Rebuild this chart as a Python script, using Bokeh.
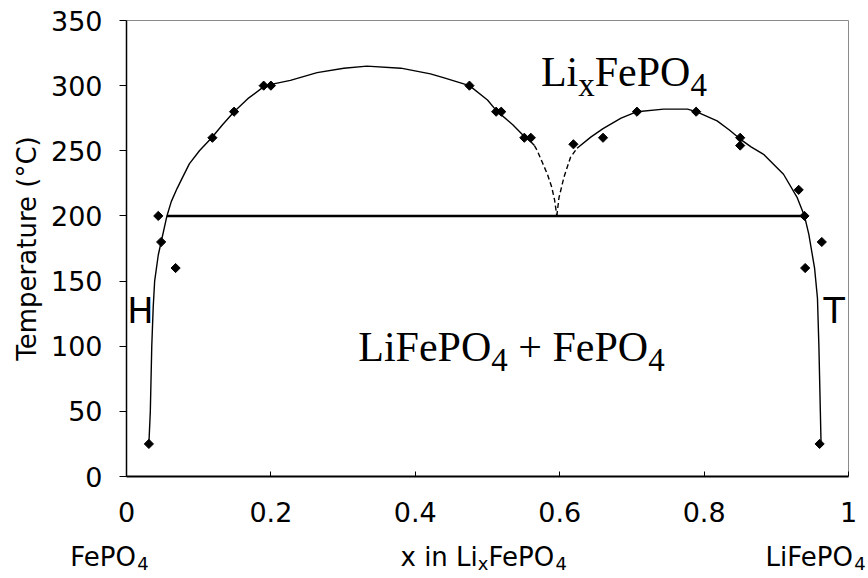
from bokeh.plotting import figure
from bokeh.models import Range1d, FixedTicker, LinearAxis
from bokeh.core.properties import value
from bokeh.embed import file_html
from bokeh.resources import INLINE
import math

# ---- data ----
pts_x = [0.031, 0.044, 0.048, 0.068, 0.119, 0.149, 0.190, 0.200, 0.475, 0.512, 0.519,
         0.551, 0.560, 0.619, 0.660, 0.707, 0.789, 0.850, 0.850, 0.931, 0.939, 0.940,
         0.963, 0.960]
pts_y = [25, 200, 180, 160, 260, 280, 300, 300, 300, 280, 280,
         260, 260, 255, 260, 280, 280, 260, 254, 220, 200, 160,
         180, 25]

left_x = [0.031, 0.033, 0.035, 0.037, 0.039, 0.044, 0.048, 0.056, 0.062, 0.070, 0.078,
          0.087, 0.101, 0.118, 0.133, 0.149, 0.168, 0.192, 0.227, 0.264, 0.301, 0.333,
          0.380, 0.421, 0.440, 0.475, 0.500, 0.512, 0.535, 0.551, 0.560, 0.565]
left_y = [25, 50, 100, 130, 150, 170, 180, 200, 211, 221, 230,
          240, 250, 260, 270, 280, 290, 300, 304, 310, 313.4, 315,
          313.4, 309, 306, 300, 289, 281, 270, 261, 257, 254]

left_dash_x = [0.565, 0.569, 0.576, 0.583, 0.589, 0.593, 0.596]
left_dash_y = [254, 250, 241, 232, 222, 212, 200]

right_dash_x = [0.596, 0.599, 0.606, 0.615, 0.624]
right_dash_y = [200, 214, 230, 245, 252]

right_x = [0.624, 0.643, 0.660, 0.685, 0.707, 0.744, 0.777, 0.789, 0.818, 0.835, 0.850,
           0.865, 0.883, 0.910, 0.929, 0.939, 0.945, 0.953, 0.957, 0.959, 0.961, 0.962]
right_y = [252, 260.5, 267, 275, 280, 282, 282, 280, 273, 266, 259,
           253, 247, 232, 214, 200, 186, 160, 137, 100, 50, 25]

tie_x = [0.056, 0.939]
tie_y = [200, 200]

x_ticks = [0, 0.2, 0.4, 0.6, 0.8, 1]
x_tick_labels = ["0", "0.2", "0.4", "0.6", "0.8", "1"]
y_ticks = [0, 50, 100, 150, 200, 250, 300, 350]

y_title = "Temperature (°C)"

# ---- layout constants (pixels) ----
W, H = 868, 578
AX_L, AX_R, AX_T, AX_B = 126, 848, 20, 476       # where the axes box sits
X0, X1 = x_ticks[0], x_ticks[-1]
Y0, Y1 = y_ticks[0], y_ticks[-1]
PX_X = (AX_R - AX_L) / (X1 - X0)
PX_Y = (AX_B - AX_T) / (Y1 - Y0)

SANS = "DejaVu Sans"
SERIF = "Liberation Serif"

p = figure(width=W, height=H, output_backend="svg", toolbar_location=None,
           x_range=Range1d(X0 - AX_L / PX_X, X0 + (W - AX_L) / PX_X),
           y_range=Range1d(Y0 - (H - AX_B) / PX_Y, Y0 + AX_B / PX_Y),
           min_border=0, x_axis_location=None, y_axis_location=None)
p.background_fill_color = "white"
p.border_fill_color = "white"
p.outline_line_color = None
p.xgrid.grid_line_color = None
p.ygrid.grid_line_color = None

xa = LinearAxis(fixed_location=Y0, bounds=(X0, X1), ticker=FixedTicker(ticks=x_ticks))
xa.major_label_overrides = {t: l for t, l in zip(x_ticks, x_tick_labels)}
ya = LinearAxis(fixed_location=X0, bounds=(Y0, Y1), ticker=FixedTicker(ticks=y_ticks))
for ax in (xa, ya):
    ax.axis_line_color = "black"
    ax.major_tick_line_color = "black"
    ax.minor_tick_line_color = None
    ax.major_label_text_font = SANS
    ax.major_label_text_font_size = "27px"
    ax.major_label_text_color = "black"
xa.axis_line_width = 2
ya.axis_line_width = 1.5
xa.major_tick_in = 5
xa.major_tick_out = 0
xa.major_label_standoff = 25
ya.major_tick_in = 0
ya.major_tick_out = 7
ya.major_label_standoff = 17
ya.axis_label = y_title
ya.axis_label_text_font = SANS
ya.axis_label_text_font_size = "26px"
ya.axis_label_text_font_style = "normal"
ya.axis_label_text_color = "black"
ya.axis_label_standoff = 6
p.add_layout(xa, "below")
p.add_layout(ya, "left")

# top and right edges of the axes box
p.line([X0, X1], [Y1, Y1], line_color="#8a8a8a", line_width=1)
p.line([X1, X1], [Y0, Y1], line_color="#8a8a8a", line_width=1)

# ---- marks ----
p.line(tie_x, tie_y, line_color="black", line_width=2.5)
p.line(left_x, left_y, line_color="black", line_width=1.4)
p.line(right_x, right_y, line_color="black", line_width=1.4)
p.line(left_dash_x, left_dash_y, line_color="black", line_width=1.4, line_dash="5 3")
p.line(right_dash_x, right_dash_y, line_color="black", line_width=1.4, line_dash="5 3")
p.scatter(pts_x, pts_y, marker="square", angle=math.pi / 4, size=6.5,
          fill_color="black", line_color="black")

# ---- formula texts, piece by piece ----
SERIF_W = {"L": 0.611, "i": 0.278, "x": 0.5, "F": 0.556, "e": 0.444, "P": 0.556,
           "O": 0.722, "4": 0.5, " ": 0.25, "+": 0.564}
SANS_W = {"x": 0.592, " ": 0.318, "i": 0.278, "n": 0.634, "L": 0.557, "F": 0.575,
          "e": 0.615, "P": 0.603, "O": 0.787, "4": 0.636, "H": 0.752, "T": 0.611}
LIFT = {SERIF: 0.331, SANS: 0.364}   # baseline correction (fraction of font size)


def rich(x, y, pieces, font, widths, size, sub_size, sub_drop):
    off = 0.0
    for txt, is_sub in pieces:
        fs = sub_size if is_sub else size
        lead = len(txt) - len(txt.lstrip(" "))
        start = off + lead * widths[" "] * fs
        dy_px = (-sub_drop if is_sub else 0) + LIFT[font] * fs
        p.text([x + start / PX_X], [y + dy_px / PX_Y],
               text=[txt.lstrip(" ")], text_font=value(font),
               text_font_size=value(f"{fs}px"), text_color="black",
               text_baseline=value("alphabetic"), text_align=value("left"))
        off += sum(widths.get(c, 0.5) for c in txt) * fs


rich(0.574, 300, [("Li", False), ("x", True), ("FePO", False), ("4", True)],
     SERIF, SERIF_W, 42, 33, 10)
rich(0.321, 89, [("LiFePO", False), ("4", True), (" + FePO", False), ("4", True)],
     SERIF, SERIF_W, 42, 33, 10)

rich(0.0012, 117, [("H", False)], SANS, SANS_W, 35, 35, 0)
rich(0.9654, 117, [("T", False)], SANS, SANS_W, 35, 35, 0)

BOT = -(566 - AX_B) / PX_Y
rich(-0.078, BOT, [("FePO", False), ("4", True)], SANS, SANS_W, 26, 18, 4)
rich(0.3795, BOT, [("x in Li", False), ("x", True), ("FePO", False), ("4", True)],
     SANS, SANS_W, 26, 18, 4)
rich(0.885, BOT, [("LiFePO", False), ("4", True)], SANS, SANS_W, 26, 18, 4)

open("out.html", "w").write(file_html(p, INLINE))
